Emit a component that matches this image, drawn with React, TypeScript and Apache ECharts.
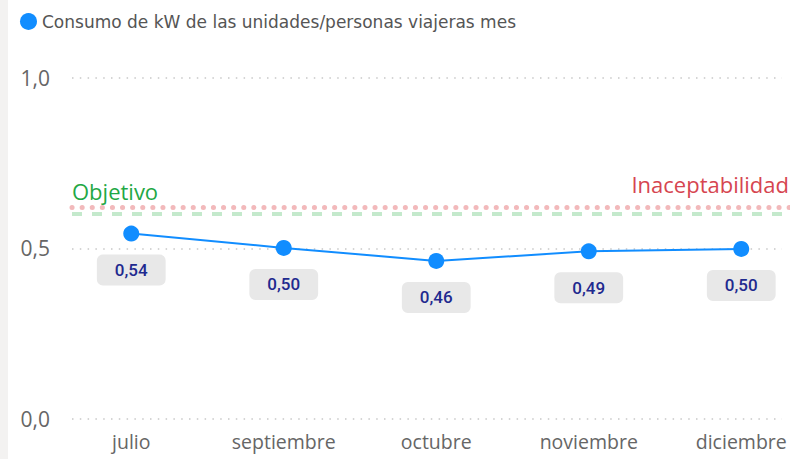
import React, { useEffect, useRef } from 'react';
import * as echarts from 'echarts';

const months = ['julio', 'septiembre', 'octubre', 'noviembre', 'diciembre'];
const consumo = [0.543, 0.501, 0.463, 0.491, 0.498];
const yMin = 0;
const yMax = 1;
const yInterval = 0.5;
const objetivo = 0.6;
const inaceptabilidad = 0.62;
const legendName = 'Consumo de kW de las unidades/personas viajeras mes';
const objetivoLabel = 'Objetivo';
const inaceptabilidadLabel = 'Inaceptabilidad';

const fmt = (v: number, d: number) => v.toFixed(d).replace('.', ',');

export default function App() {
  const ref = useRef<HTMLDivElement>(null);
  useEffect(() => {
    document.body.style.margin = '0';
    const chart = echarts.init(ref.current as HTMLDivElement, null, { renderer: 'svg' });
    const top = 77.5;
    const bottom = 40;
    chart.setOption({
      animation: false,
      legend: {
        data: [legendName],
        left: 15,
        top: 8,
        icon: 'circle',
        itemWidth: 17,
        itemHeight: 17,
        itemGap: 4,
        textStyle: { color: '#555', fontSize: 17, fontFamily: 'DejaVu Sans' },
      },
      grid: [
        { left: 72, right: 8, top, bottom, outerBoundsMode: 'none' },
        { left: 72, right: 0, top, bottom, outerBoundsMode: 'none' },
        { left: 55, width: 762.5, top, bottom, outerBoundsMode: 'none' },
      ],
      xAxis: [
        { gridIndex: 0, type: 'category', data: months, show: false },
        { gridIndex: 1, type: 'category', data: months, show: false },
        {
          gridIndex: 2,
          type: 'category',
          data: months,
          boundaryGap: true,
          axisLine: { show: false },
          axisTick: { show: false },
          splitLine: { show: false },
          axisLabel: { color: '#666', fontSize: 19.5, fontFamily: 'Open Sans', margin: 12 },
        },
      ],
      yAxis: [
        {
          gridIndex: 0,
          type: 'value',
          min: yMin,
          max: yMax,
          interval: yInterval,
          axisLine: { show: false },
          axisTick: { show: false },
          axisLabel: {
            color: '#666',
            fontSize: 21,
            fontFamily: 'Open Sans',
            margin: 22,
            formatter: (v: number) => fmt(v, 1),
          },
          splitLine: { lineStyle: { color: '#c8c8c8', width: 1.5, type: [1.5, 6.3] } },
        },
        { gridIndex: 1, type: 'value', min: yMin, max: yMax, show: false },
        { gridIndex: 2, type: 'value', min: yMin, max: yMax, show: false },
      ],
      series: [
        {
          type: 'line',
          name: 'ref',
          xAxisIndex: 1,
          yAxisIndex: 1,
          data: [],
          markLine: {
            silent: true,
            symbol: 'none',
            data: [
              {
                yAxis: objetivo,
                lineStyle: { color: '#c4e9cc', width: 4, type: [10, 10], cap: 'butt' },
                label: {
                  show: true,
                  position: 'insideStartTop',
                  formatter: objetivoLabel,
                  color: '#1fa845',
                  fontSize: 22,
                  fontFamily: 'Open Sans',
                  distance: [0, 12],
                },
              },
              {
                yAxis: inaceptabilidad,
                lineStyle: { color: '#f2b9bb', width: 5, type: [0.1, 10], cap: 'round' },
                label: {
                  show: true,
                  position: 'insideEndTop',
                  formatter: inaceptabilidadLabel,
                  color: '#d64550',
                  fontSize: 22,
                  fontFamily: 'Open Sans',
                  distance: [1, 12],
                },
              },
            ],
          },
        },
        {
          type: 'line',
          name: legendName,
          xAxisIndex: 2,
          yAxisIndex: 2,
          data: consumo,
          symbol: 'circle',
          symbolSize: 16,
          z: 5,
          lineStyle: { color: '#118DFF', width: 2 },
          itemStyle: { color: '#118DFF' },
          label: {
            show: true,
            position: 'bottom',
            distance: 13,
            formatter: (p: any) => fmt(p.value, 2),
            color: '#1f2a8f',
            fontSize: 17,
            fontWeight: 500,
            fontFamily: 'Roboto',
            backgroundColor: '#e8e8e8',
            borderRadius: 6,
            padding: [7, 18, 7, 18],
          },
        },
      ],
    });
    return () => chart.dispose();
  }, []);
  return (
    <div
      style={{
        width: 790,
        height: 459,
        background: 'linear-gradient(to right, #f3f2f1 0px, #f3f2f1 8px, #ffffff 8px)',
      }}
    >
      <div ref={ref} style={{ width: 790, height: 459 }} />
    </div>
  );
}
